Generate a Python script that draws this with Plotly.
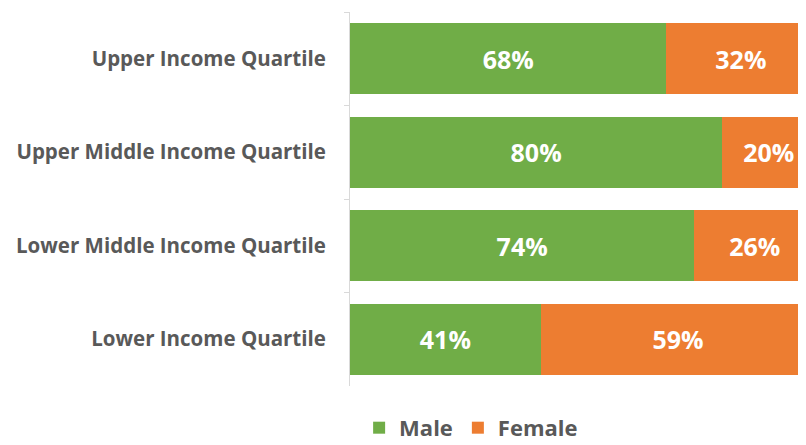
import plotly.graph_objects as go

categories = ["Upper Income Quartile", "Upper Middle Income Quartile",
              "Lower Middle Income Quartile", "Lower Income Quartile"]
male = [68, 80, 74, 41]
female = [32, 20, 26, 59]

label_font = dict(color="white", size=25, family="Open Sans", weight="bold")

fig = go.Figure()
fig.add_trace(go.Bar(
    y=categories, x=[v / 100 for v in male], orientation="h", name="Male",
    marker=dict(color="#70AD47", line=dict(width=0)),
    text=[f"{v}%" for v in male], textposition="inside", insidetextanchor="middle",
    textfont=label_font, hoverinfo="skip",
))
fig.add_trace(go.Bar(
    y=categories, x=[v / 100 for v in female], orientation="h", name="Female",
    marker=dict(color="#ED7D31", line=dict(width=0)),
    text=[f"{v}%" for v in female], textposition="inside", insidetextanchor="middle",
    textfont=label_font, hoverinfo="skip",
))

# the page body adds an 8px offset, so the figure is sized/margined to compensate
fig.update_layout(
    width=798, height=437,
    barmode="stack", bargap=0.24,
    plot_bgcolor="white", paper_bgcolor="white",
    margin=dict(l=342, r=0, t=4, b=59, autoexpand=False),
    font=dict(family="Open Sans", color="#595959"),
    uniformtext=dict(minsize=10, mode="show"),
    xaxis=dict(range=[0, 0.98], showgrid=False, showticklabels=False, zeroline=False,
               fixedrange=True, automargin=False),
    yaxis=dict(autorange="reversed", showline=True, linecolor="#d9d9d9", linewidth=1,
               ticks="outside", tickson="boundaries", ticklen=5, tickcolor="#d9d9d9",
               tickfont=dict(size=20.5, family="Open Sans", color="#595959", weight="bold"),
               ticklabelstandoff=19, automargin=False),
    legend=dict(orientation="h", x=0.02, xanchor="left", y=-0.112, yanchor="middle",
                font=dict(size=22, family="Open Sans", color="#595959", weight="bold"),
                itemwidth=30, traceorder="normal"),
)

fig.write_html("out.html")
